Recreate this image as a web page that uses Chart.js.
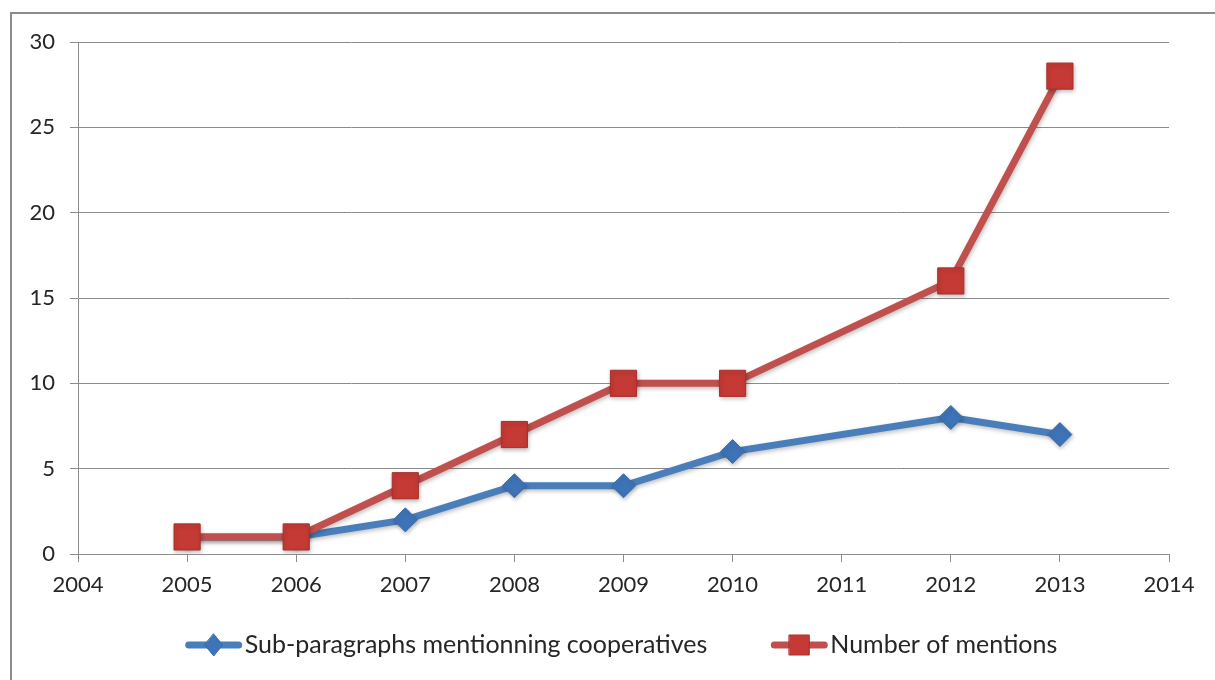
<!DOCTYPE html>
<html>
<head>
<meta charset="utf-8">
<script src="https://cdn.jsdelivr.net/npm/chart.js@4/dist/chart.umd.min.js"></script>
<style>
  html, body { margin: 0; padding: 0; background: #fff; overflow: hidden; }
  #wrap { position: relative; width: 1215px; height: 680px; }
  #frame { position: absolute; left: 10px; top: 12px; width: 1300px; height: 800px; border: 2px solid #8c8c8c; box-sizing: border-box; }
  canvas { position: absolute; left: 0; top: 0; }
</style>
</head>
<body>
<div id="wrap">
  <div id="frame"></div>
  <canvas id="chart" width="1215" height="680"></canvas>
</div>
<script>
const years = [2005, 2006, 2007, 2008, 2009, 2010, 2012, 2013];
const subParagraphs = [1, 1, 2, 4, 4, 6, 8, 7];
const mentions = [1, 1, 4, 7, 10, 10, 16, 28];
const seriesNames = ['Sub-paragraphs mentionning cooperatives', 'Number of mentions'];

const blue = '#4a7ebb';
const red = '#c0504d';
const fontFamily = 'Lato, "Open Sans", sans-serif';

const toPoints = (vals) => years.map((y, i) => ({ x: y, y: vals[i] }));

// legend drawn by hand so the line+marker sample looks like the original
const lineLegend = {
  id: 'lineLegend',
  afterDraw(chart) {
    const ctx = chart.ctx;
    const ds = chart.data.datasets;
    const sampleW = 58, gap = 2, itemGap = 63;
    ctx.save();
    ctx.font = '25px ' + fontFamily;
    const widths = ds.map(d => sampleW + gap + ctx.measureText(d.label).width);
    const total = widths.reduce((a, b) => a + b, 0) + itemGap * (ds.length - 1);
    let x = 621 - total / 2;
    const y = 645;
    ds.forEach((d, i) => {
      ctx.strokeStyle = d.borderColor;
      ctx.lineWidth = 7;
      ctx.lineCap = 'round';
      ctx.beginPath();
      ctx.moveTo(x + 4, y);
      ctx.lineTo(x + sampleW - 4, y);
      ctx.stroke();
      ctx.fillStyle = d.pointBackgroundColor;
      ctx.strokeStyle = d.pointBorderColor;
      ctx.lineWidth = 1;
      const cx = x + sampleW / 2;
      ctx.beginPath();
      if (d.pointStyle === 'rect') {
        ctx.rect(cx - 10, y - 10, 20, 20);
      } else {
        ctx.moveTo(cx, y - 11);
        ctx.lineTo(cx + 9, y);
        ctx.lineTo(cx, y + 11);
        ctx.lineTo(cx - 9, y);
        ctx.closePath();
      }
      ctx.fill();
      ctx.stroke();
      ctx.fillStyle = '#262626';
      ctx.textBaseline = 'middle';
      ctx.textAlign = 'left';
      ctx.fillText(d.label, x + sampleW + gap, y);
      x += widths[i] + itemGap;
    });
    ctx.restore();
  }
};

// soft shadow under the lines and markers
const shadow = {
  id: 'shadow',
  beforeDatasetsDraw(chart) {
    const ctx = chart.ctx;
    ctx.save();
    ctx.shadowColor = 'rgba(0,0,0,0.25)';
    ctx.shadowBlur = 4;
    ctx.shadowOffsetX = 1;
    ctx.shadowOffsetY = 2;
  },
  afterDatasetsDraw(chart) {
    chart.ctx.restore();
  }
};

new Chart(document.getElementById('chart'), {
  type: 'line',
  data: {
    datasets: [{
      label: seriesNames[0],
      data: toPoints(subParagraphs),
      borderColor: blue,
      borderWidth: 7,
      pointStyle: 'rectRot',
      pointRadius: 12,
      pointBackgroundColor: '#3d74b8',
      pointBorderColor: '#3a6aa8',
      pointBorderWidth: 1,
      order: 2
    }, {
      label: seriesNames[1],
      data: toPoints(mentions),
      borderColor: red,
      borderWidth: 7,
      pointStyle: 'rect',
      pointRadius: 18.5,
      pointBackgroundColor: '#c53a35',
      pointBorderColor: '#a8302c',
      pointBorderWidth: 1,
      order: 1
    }]
  },
  options: {
    responsive: false,
    animation: false,
    layout: { padding: { left: 0, right: 46, top: 42, bottom: 0 } },
    plugins: {
      legend: { display: false },
      tooltip: { enabled: false }
    },
    scales: {
      x: {
        type: 'linear',
        min: 2004,
        max: 2014,
        afterFit(scale) { scale.height = 126; },
        border: { color: '#8c8c8c', width: 1 },
        grid: { drawOnChartArea: false, drawTicks: true, tickLength: 8, color: '#8c8c8c' },
        ticks: {
          stepSize: 1,
          padding: 10,
          color: '#262626',
          font: { family: fontFamily, size: 22 },
          callback: (v) => String(v)
        }
      },
      y: {
        min: 0,
        max: 30,
        afterFit(scale) { scale.width = 78; },
        border: { color: '#8c8c8c', width: 1 },
        grid: { color: '#8c8c8c', lineWidth: 1, tickLength: 8 },
        ticks: {
          stepSize: 5,
          padding: 15,
          color: '#262626',
          font: { family: fontFamily, size: 22 }
        }
      }
    }
  },
  plugins: [shadow, lineLegend]
});
</script>
</body>
</html>
